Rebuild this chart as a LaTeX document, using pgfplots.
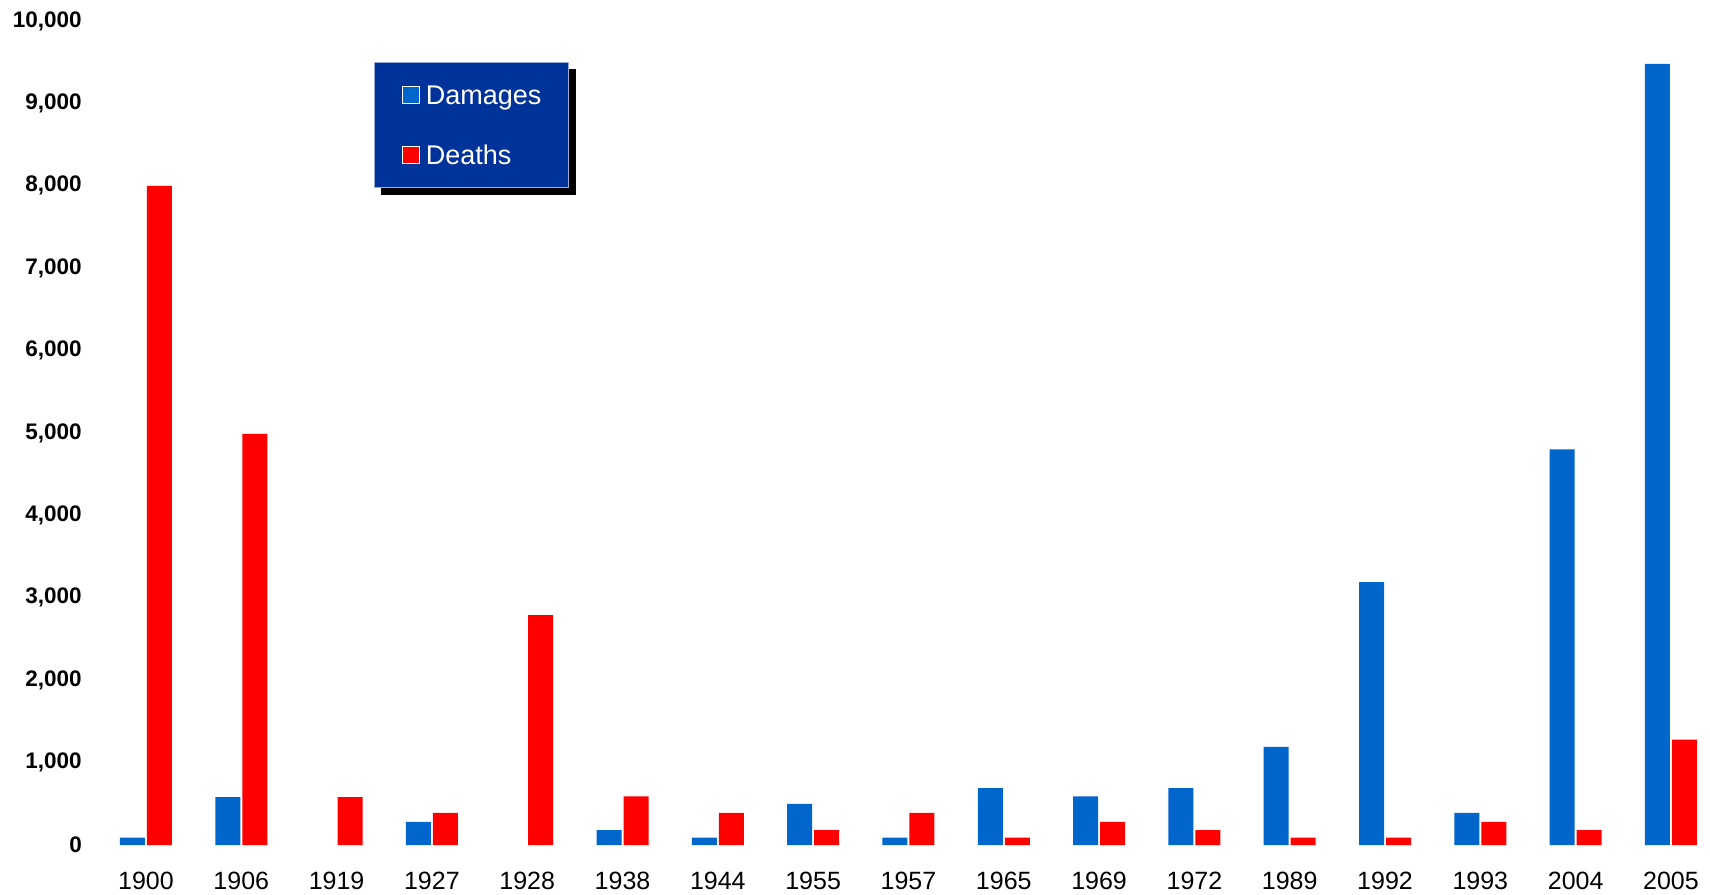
\documentclass[border=0pt]{standalone}
\usepackage{fontspec}
\setmainfont{Liberation Sans}
\usepackage{pgfplots}
\pgfplotsset{compat=1.18}
\usepackage{pgfplotstable}
\usetikzlibrary{backgrounds}
\definecolor{dmg}{HTML}{0066CC}
\definecolor{dth}{HTML}{FF0000}
\definecolor{legbg}{HTML}{003399}
\pgfplotstableread{
x y
0 90
1 580
3 280
5 180
6 90
7 500
8 90
9 690
10 590
11 690
12 1190
13 3190
14 390
15 4800
16 9480
}\damages
\pgfplotstableread{
x y
0 8000
1 4990
2 580
3 390
4 2790
5 590
6 390
7 180
8 390
9 90
10 280
11 180
12 90
13 90
14 280
15 180
16 1280
}\deaths
\begin{document}
\begin{tikzpicture}
\begin{axis}[
  at={(98.3pt,49pt)}, anchor=south west,
  scale only axis, width=1612.7pt, height=824pt,
  xmin=-0.5, xmax=16.42, ymin=0, ymax=10000,
  enlargelimits=false, clip=false,
  ybar=2pt, bar width=25pt,
  axis line style={draw=none}, major tick length=0pt, tick style={draw=none},
  xtick={0,...,16},
  xticklabels={1900,1906,1919,1927,1928,1938,1944,1955,1957,1965,1969,1972,1989,1992,1993,2004,2005},
  x tick label style={font=\fontsize{25}{30}\selectfont, yshift=-24pt},
  ytick={0,1000,...,10000},
  y tick label style={font=\fontsize{22.5}{26}\selectfont\bfseries, xshift=-13pt},
  /pgf/number format/.cd, 1000 sep={,}, assume math mode=true, /pgfplots/.cd,
  scaled y ticks=false,
  legend cell align=left,
  legend image code/.code={\draw[#1, draw=white, line width=1.2pt] (0pt,-8pt) rectangle (17pt,9pt);},
  legend style={name=leg, at={(0.171,0.950)}, anchor=north west, fill=legbg, draw=white!60!legbg, line width=1pt,
    text=white, font=\fontsize{27}{30}\selectfont, inner xsep=27pt, inner ysep=23pt,
    row sep=41pt, column sep=6pt,
    nodes={text height=19pt, text depth=0pt, inner sep=0pt}},
]
\addplot[fill=dmg, draw=none] table[x=x,y=y] {\damages};
\addplot[fill=dth, draw=none] table[x=x,y=y] {\deaths};
\legend{Damages, Deaths}
\end{axis}
\begin{pgfonlayer}{background}
\fill[black] ([xshift=7pt,yshift=-7pt]leg.south west) rectangle ([xshift=7pt,yshift=-7pt]leg.north east);
\end{pgfonlayer}
\pgfresetboundingbox
\path (0,0) rectangle (1710pt,894pt);
\end{tikzpicture}
\end{document}
